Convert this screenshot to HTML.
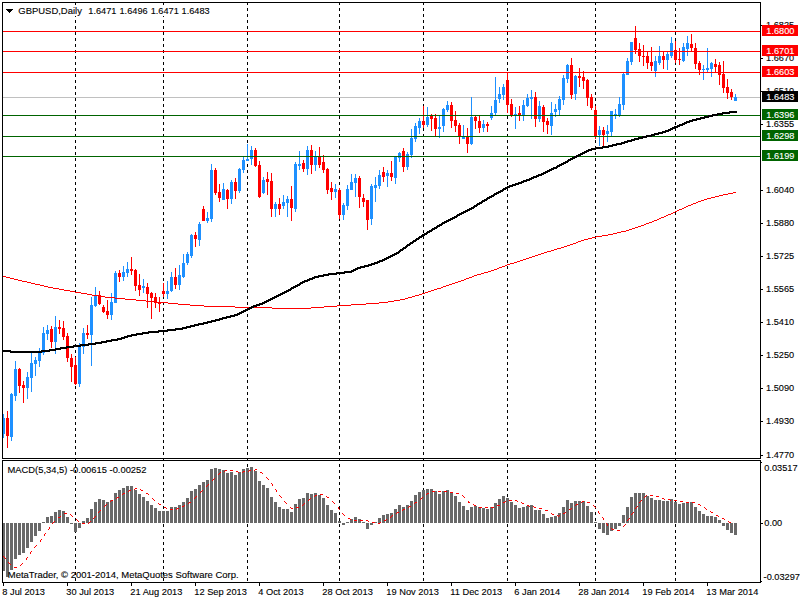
<!DOCTYPE html>
<html><head><meta charset="utf-8"><title>GBPUSD,Daily</title>
<style>
html,body{margin:0;padding:0;background:#fff;}
body{width:800px;height:600px;overflow:hidden;}
svg{display:block}
text{font-family:"Liberation Sans",sans-serif;font-size:9.5px;stroke-width:0.12px;paint-order:stroke;}
g.k text{stroke:#000;} g.w text{stroke:#fff;}
</style></head><body>
<svg width="800" height="600" viewBox="0 0 800 600">
<rect width="800" height="600" fill="#fff"/>
<g shape-rendering="crispEdges">
<path d="M75.5 3V5M75.5 8V11M75.5 14V17M75.5 20V23M75.5 26V29M75.5 32V35M75.5 38V41M75.5 44V47M75.5 50V53M75.5 56V59M75.5 62V65M75.5 68V71M75.5 74V77M75.5 80V83M75.5 86V89M75.5 92V95M75.5 98V101M75.5 104V107M75.5 110V113M75.5 116V119M75.5 122V125M75.5 128V131M75.5 134V137M75.5 140V143M75.5 146V149M75.5 152V155M75.5 158V161M75.5 164V167M75.5 170V173M75.5 176V179M75.5 182V185M75.5 188V191M75.5 194V197M75.5 200V203M75.5 206V209M75.5 212V215M75.5 218V221M75.5 224V227M75.5 230V233M75.5 236V239M75.5 242V245M75.5 248V251M75.5 254V257M75.5 260V263M75.5 266V269M75.5 272V275M75.5 278V281M75.5 284V287M75.5 290V293M75.5 296V299M75.5 302V305M75.5 308V311M75.5 314V317M75.5 320V323M75.5 326V329M75.5 332V335M75.5 338V341M75.5 344V347M75.5 350V353M75.5 356V359M75.5 362V365M75.5 368V371M75.5 374V377M75.5 380V383M75.5 386V389M75.5 392V395M75.5 398V401M75.5 404V407M75.5 410V413M75.5 416V419M75.5 422V425M75.5 428V431M75.5 434V437M75.5 440V443M75.5 446V449M75.5 452V455M75.5 464V467M75.5 470V473M75.5 476V479M75.5 482V485M75.5 488V491M75.5 494V497M75.5 500V503M75.5 506V509M75.5 512V515M75.5 518V521M75.5 524V527M75.5 530V533M75.5 536V539M75.5 542V545M75.5 548V551M75.5 554V557M75.5 560V563M75.5 566V569M75.5 572V575M75.5 578V581M75.5 459V460M163.5 3V5M163.5 8V11M163.5 14V17M163.5 20V23M163.5 26V29M163.5 32V35M163.5 38V41M163.5 44V47M163.5 50V53M163.5 56V59M163.5 62V65M163.5 68V71M163.5 74V77M163.5 80V83M163.5 86V89M163.5 92V95M163.5 98V101M163.5 104V107M163.5 110V113M163.5 116V119M163.5 122V125M163.5 128V131M163.5 134V137M163.5 140V143M163.5 146V149M163.5 152V155M163.5 158V161M163.5 164V167M163.5 170V173M163.5 176V179M163.5 182V185M163.5 188V191M163.5 194V197M163.5 200V203M163.5 206V209M163.5 212V215M163.5 218V221M163.5 224V227M163.5 230V233M163.5 236V239M163.5 242V245M163.5 248V251M163.5 254V257M163.5 260V263M163.5 266V269M163.5 272V275M163.5 278V281M163.5 284V287M163.5 290V293M163.5 296V299M163.5 302V305M163.5 308V311M163.5 314V317M163.5 320V323M163.5 326V329M163.5 332V335M163.5 338V341M163.5 344V347M163.5 350V353M163.5 356V359M163.5 362V365M163.5 368V371M163.5 374V377M163.5 380V383M163.5 386V389M163.5 392V395M163.5 398V401M163.5 404V407M163.5 410V413M163.5 416V419M163.5 422V425M163.5 428V431M163.5 434V437M163.5 440V443M163.5 446V449M163.5 452V455M163.5 464V467M163.5 470V473M163.5 476V479M163.5 482V485M163.5 488V491M163.5 494V497M163.5 500V503M163.5 506V509M163.5 512V515M163.5 518V521M163.5 524V527M163.5 530V533M163.5 536V539M163.5 542V545M163.5 548V551M163.5 554V557M163.5 560V563M163.5 566V569M163.5 572V575M163.5 578V581M163.5 459V460M247.5 3V5M247.5 8V11M247.5 14V17M247.5 20V23M247.5 26V29M247.5 32V35M247.5 38V41M247.5 44V47M247.5 50V53M247.5 56V59M247.5 62V65M247.5 68V71M247.5 74V77M247.5 80V83M247.5 86V89M247.5 92V95M247.5 98V101M247.5 104V107M247.5 110V113M247.5 116V119M247.5 122V125M247.5 128V131M247.5 134V137M247.5 140V143M247.5 146V149M247.5 152V155M247.5 158V161M247.5 164V167M247.5 170V173M247.5 176V179M247.5 182V185M247.5 188V191M247.5 194V197M247.5 200V203M247.5 206V209M247.5 212V215M247.5 218V221M247.5 224V227M247.5 230V233M247.5 236V239M247.5 242V245M247.5 248V251M247.5 254V257M247.5 260V263M247.5 266V269M247.5 272V275M247.5 278V281M247.5 284V287M247.5 290V293M247.5 296V299M247.5 302V305M247.5 308V311M247.5 314V317M247.5 320V323M247.5 326V329M247.5 332V335M247.5 338V341M247.5 344V347M247.5 350V353M247.5 356V359M247.5 362V365M247.5 368V371M247.5 374V377M247.5 380V383M247.5 386V389M247.5 392V395M247.5 398V401M247.5 404V407M247.5 410V413M247.5 416V419M247.5 422V425M247.5 428V431M247.5 434V437M247.5 440V443M247.5 446V449M247.5 452V455M247.5 464V467M247.5 470V473M247.5 476V479M247.5 482V485M247.5 488V491M247.5 494V497M247.5 500V503M247.5 506V509M247.5 512V515M247.5 518V521M247.5 524V527M247.5 530V533M247.5 536V539M247.5 542V545M247.5 548V551M247.5 554V557M247.5 560V563M247.5 566V569M247.5 572V575M247.5 578V581M247.5 459V460M339.5 3V5M339.5 8V11M339.5 14V17M339.5 20V23M339.5 26V29M339.5 32V35M339.5 38V41M339.5 44V47M339.5 50V53M339.5 56V59M339.5 62V65M339.5 68V71M339.5 74V77M339.5 80V83M339.5 86V89M339.5 92V95M339.5 98V101M339.5 104V107M339.5 110V113M339.5 116V119M339.5 122V125M339.5 128V131M339.5 134V137M339.5 140V143M339.5 146V149M339.5 152V155M339.5 158V161M339.5 164V167M339.5 170V173M339.5 176V179M339.5 182V185M339.5 188V191M339.5 194V197M339.5 200V203M339.5 206V209M339.5 212V215M339.5 218V221M339.5 224V227M339.5 230V233M339.5 236V239M339.5 242V245M339.5 248V251M339.5 254V257M339.5 260V263M339.5 266V269M339.5 272V275M339.5 278V281M339.5 284V287M339.5 290V293M339.5 296V299M339.5 302V305M339.5 308V311M339.5 314V317M339.5 320V323M339.5 326V329M339.5 332V335M339.5 338V341M339.5 344V347M339.5 350V353M339.5 356V359M339.5 362V365M339.5 368V371M339.5 374V377M339.5 380V383M339.5 386V389M339.5 392V395M339.5 398V401M339.5 404V407M339.5 410V413M339.5 416V419M339.5 422V425M339.5 428V431M339.5 434V437M339.5 440V443M339.5 446V449M339.5 452V455M339.5 464V467M339.5 470V473M339.5 476V479M339.5 482V485M339.5 488V491M339.5 494V497M339.5 500V503M339.5 506V509M339.5 512V515M339.5 518V521M339.5 524V527M339.5 530V533M339.5 536V539M339.5 542V545M339.5 548V551M339.5 554V557M339.5 560V563M339.5 566V569M339.5 572V575M339.5 578V581M339.5 459V460M423.5 3V5M423.5 8V11M423.5 14V17M423.5 20V23M423.5 26V29M423.5 32V35M423.5 38V41M423.5 44V47M423.5 50V53M423.5 56V59M423.5 62V65M423.5 68V71M423.5 74V77M423.5 80V83M423.5 86V89M423.5 92V95M423.5 98V101M423.5 104V107M423.5 110V113M423.5 116V119M423.5 122V125M423.5 128V131M423.5 134V137M423.5 140V143M423.5 146V149M423.5 152V155M423.5 158V161M423.5 164V167M423.5 170V173M423.5 176V179M423.5 182V185M423.5 188V191M423.5 194V197M423.5 200V203M423.5 206V209M423.5 212V215M423.5 218V221M423.5 224V227M423.5 230V233M423.5 236V239M423.5 242V245M423.5 248V251M423.5 254V257M423.5 260V263M423.5 266V269M423.5 272V275M423.5 278V281M423.5 284V287M423.5 290V293M423.5 296V299M423.5 302V305M423.5 308V311M423.5 314V317M423.5 320V323M423.5 326V329M423.5 332V335M423.5 338V341M423.5 344V347M423.5 350V353M423.5 356V359M423.5 362V365M423.5 368V371M423.5 374V377M423.5 380V383M423.5 386V389M423.5 392V395M423.5 398V401M423.5 404V407M423.5 410V413M423.5 416V419M423.5 422V425M423.5 428V431M423.5 434V437M423.5 440V443M423.5 446V449M423.5 452V455M423.5 464V467M423.5 470V473M423.5 476V479M423.5 482V485M423.5 488V491M423.5 494V497M423.5 500V503M423.5 506V509M423.5 512V515M423.5 518V521M423.5 524V527M423.5 530V533M423.5 536V539M423.5 542V545M423.5 548V551M423.5 554V557M423.5 560V563M423.5 566V569M423.5 572V575M423.5 578V581M423.5 459V460M507.5 3V5M507.5 8V11M507.5 14V17M507.5 20V23M507.5 26V29M507.5 32V35M507.5 38V41M507.5 44V47M507.5 50V53M507.5 56V59M507.5 62V65M507.5 68V71M507.5 74V77M507.5 80V83M507.5 86V89M507.5 92V95M507.5 98V101M507.5 104V107M507.5 110V113M507.5 116V119M507.5 122V125M507.5 128V131M507.5 134V137M507.5 140V143M507.5 146V149M507.5 152V155M507.5 158V161M507.5 164V167M507.5 170V173M507.5 176V179M507.5 182V185M507.5 188V191M507.5 194V197M507.5 200V203M507.5 206V209M507.5 212V215M507.5 218V221M507.5 224V227M507.5 230V233M507.5 236V239M507.5 242V245M507.5 248V251M507.5 254V257M507.5 260V263M507.5 266V269M507.5 272V275M507.5 278V281M507.5 284V287M507.5 290V293M507.5 296V299M507.5 302V305M507.5 308V311M507.5 314V317M507.5 320V323M507.5 326V329M507.5 332V335M507.5 338V341M507.5 344V347M507.5 350V353M507.5 356V359M507.5 362V365M507.5 368V371M507.5 374V377M507.5 380V383M507.5 386V389M507.5 392V395M507.5 398V401M507.5 404V407M507.5 410V413M507.5 416V419M507.5 422V425M507.5 428V431M507.5 434V437M507.5 440V443M507.5 446V449M507.5 452V455M507.5 464V467M507.5 470V473M507.5 476V479M507.5 482V485M507.5 488V491M507.5 494V497M507.5 500V503M507.5 506V509M507.5 512V515M507.5 518V521M507.5 524V527M507.5 530V533M507.5 536V539M507.5 542V545M507.5 548V551M507.5 554V557M507.5 560V563M507.5 566V569M507.5 572V575M507.5 578V581M507.5 459V460M595.5 3V5M595.5 8V11M595.5 14V17M595.5 20V23M595.5 26V29M595.5 32V35M595.5 38V41M595.5 44V47M595.5 50V53M595.5 56V59M595.5 62V65M595.5 68V71M595.5 74V77M595.5 80V83M595.5 86V89M595.5 92V95M595.5 98V101M595.5 104V107M595.5 110V113M595.5 116V119M595.5 122V125M595.5 128V131M595.5 134V137M595.5 140V143M595.5 146V149M595.5 152V155M595.5 158V161M595.5 164V167M595.5 170V173M595.5 176V179M595.5 182V185M595.5 188V191M595.5 194V197M595.5 200V203M595.5 206V209M595.5 212V215M595.5 218V221M595.5 224V227M595.5 230V233M595.5 236V239M595.5 242V245M595.5 248V251M595.5 254V257M595.5 260V263M595.5 266V269M595.5 272V275M595.5 278V281M595.5 284V287M595.5 290V293M595.5 296V299M595.5 302V305M595.5 308V311M595.5 314V317M595.5 320V323M595.5 326V329M595.5 332V335M595.5 338V341M595.5 344V347M595.5 350V353M595.5 356V359M595.5 362V365M595.5 368V371M595.5 374V377M595.5 380V383M595.5 386V389M595.5 392V395M595.5 398V401M595.5 404V407M595.5 410V413M595.5 416V419M595.5 422V425M595.5 428V431M595.5 434V437M595.5 440V443M595.5 446V449M595.5 452V455M595.5 464V467M595.5 470V473M595.5 476V479M595.5 482V485M595.5 488V491M595.5 494V497M595.5 500V503M595.5 506V509M595.5 512V515M595.5 518V521M595.5 524V527M595.5 530V533M595.5 536V539M595.5 542V545M595.5 548V551M595.5 554V557M595.5 560V563M595.5 566V569M595.5 572V575M595.5 578V581M595.5 459V460M675.5 3V5M675.5 8V11M675.5 14V17M675.5 20V23M675.5 26V29M675.5 32V35M675.5 38V41M675.5 44V47M675.5 50V53M675.5 56V59M675.5 62V65M675.5 68V71M675.5 74V77M675.5 80V83M675.5 86V89M675.5 92V95M675.5 98V101M675.5 104V107M675.5 110V113M675.5 116V119M675.5 122V125M675.5 128V131M675.5 134V137M675.5 140V143M675.5 146V149M675.5 152V155M675.5 158V161M675.5 164V167M675.5 170V173M675.5 176V179M675.5 182V185M675.5 188V191M675.5 194V197M675.5 200V203M675.5 206V209M675.5 212V215M675.5 218V221M675.5 224V227M675.5 230V233M675.5 236V239M675.5 242V245M675.5 248V251M675.5 254V257M675.5 260V263M675.5 266V269M675.5 272V275M675.5 278V281M675.5 284V287M675.5 290V293M675.5 296V299M675.5 302V305M675.5 308V311M675.5 314V317M675.5 320V323M675.5 326V329M675.5 332V335M675.5 338V341M675.5 344V347M675.5 350V353M675.5 356V359M675.5 362V365M675.5 368V371M675.5 374V377M675.5 380V383M675.5 386V389M675.5 392V395M675.5 398V401M675.5 404V407M675.5 410V413M675.5 416V419M675.5 422V425M675.5 428V431M675.5 434V437M675.5 440V443M675.5 446V449M675.5 452V455M675.5 464V467M675.5 470V473M675.5 476V479M675.5 482V485M675.5 488V491M675.5 494V497M675.5 500V503M675.5 506V509M675.5 512V515M675.5 518V521M675.5 524V527M675.5 530V533M675.5 536V539M675.5 542V545M675.5 548V551M675.5 554V557M675.5 560V563M675.5 566V569M675.5 572V575M675.5 578V581M675.5 459V460" stroke="#000" stroke-width="1" fill="none"/>
<rect x="18" y="5" width="192" height="11" fill="#fff"/>
<rect x="3" y="97" width="757" height="1" fill="#c0c0c0"/>
<rect x="3" y="414" width="1" height="24" fill="#1e90ff"/>
<rect x="2" y="418" width="3" height="16" fill="#1e90ff"/>
<rect x="7" y="411" width="1" height="37" fill="#ff0000"/>
<rect x="6" y="418" width="3" height="18" fill="#ff0000"/>
<rect x="11" y="393" width="1" height="48" fill="#1e90ff"/>
<rect x="10" y="394" width="3" height="43" fill="#1e90ff"/>
<rect x="15" y="361" width="1" height="40" fill="#1e90ff"/>
<rect x="14" y="369" width="3" height="27" fill="#1e90ff"/>
<rect x="19" y="368" width="1" height="25" fill="#ff0000"/>
<rect x="18" y="369" width="3" height="17" fill="#ff0000"/>
<rect x="23" y="381" width="1" height="22" fill="#ff0000"/>
<rect x="22" y="385" width="3" height="3" fill="#ff0000"/>
<rect x="27" y="372" width="1" height="27" fill="#1e90ff"/>
<rect x="26" y="377" width="3" height="11" fill="#1e90ff"/>
<rect x="31" y="353" width="1" height="39" fill="#1e90ff"/>
<rect x="30" y="363" width="3" height="15" fill="#1e90ff"/>
<rect x="35" y="357" width="1" height="19" fill="#1e90ff"/>
<rect x="34" y="360" width="3" height="4" fill="#1e90ff"/>
<rect x="39" y="348" width="1" height="19" fill="#1e90ff"/>
<rect x="38" y="353" width="3" height="8" fill="#1e90ff"/>
<rect x="43" y="327" width="1" height="28" fill="#1e90ff"/>
<rect x="42" y="333" width="3" height="20" fill="#1e90ff"/>
<rect x="47" y="325" width="1" height="15" fill="#1e90ff"/>
<rect x="46" y="330" width="3" height="4" fill="#1e90ff"/>
<rect x="51" y="326" width="1" height="22" fill="#ff0000"/>
<rect x="50" y="329" width="3" height="13" fill="#ff0000"/>
<rect x="55" y="316" width="1" height="38" fill="#1e90ff"/>
<rect x="54" y="327" width="3" height="15" fill="#1e90ff"/>
<rect x="59" y="320" width="1" height="14" fill="#ff0000"/>
<rect x="58" y="327" width="3" height="2" fill="#ff0000"/>
<rect x="63" y="321" width="1" height="19" fill="#ff0000"/>
<rect x="62" y="328" width="3" height="9" fill="#ff0000"/>
<rect x="67" y="333" width="1" height="29" fill="#ff0000"/>
<rect x="66" y="336" width="3" height="22" fill="#ff0000"/>
<rect x="71" y="354" width="1" height="28" fill="#ff0000"/>
<rect x="70" y="358" width="3" height="9" fill="#ff0000"/>
<rect x="75" y="357" width="1" height="28" fill="#ff0000"/>
<rect x="74" y="365" width="3" height="19" fill="#ff0000"/>
<rect x="79" y="343" width="1" height="44" fill="#1e90ff"/>
<rect x="78" y="347" width="3" height="37" fill="#1e90ff"/>
<rect x="83" y="328" width="1" height="26" fill="#1e90ff"/>
<rect x="82" y="333" width="3" height="14" fill="#1e90ff"/>
<rect x="87" y="325" width="1" height="14" fill="#ff0000"/>
<rect x="86" y="333" width="3" height="2" fill="#ff0000"/>
<rect x="91" y="297" width="1" height="69" fill="#1e90ff"/>
<rect x="90" y="305" width="3" height="30" fill="#1e90ff"/>
<rect x="95" y="287" width="1" height="20" fill="#1e90ff"/>
<rect x="94" y="296" width="3" height="10" fill="#1e90ff"/>
<rect x="99" y="291" width="1" height="14" fill="#ff0000"/>
<rect x="98" y="295" width="3" height="9" fill="#ff0000"/>
<rect x="103" y="305" width="1" height="8" fill="#ff0000"/>
<rect x="102" y="307" width="3" height="5" fill="#ff0000"/>
<rect x="107" y="300" width="1" height="19" fill="#ff0000"/>
<rect x="106" y="311" width="3" height="4" fill="#ff0000"/>
<rect x="111" y="293" width="1" height="27" fill="#1e90ff"/>
<rect x="110" y="302" width="3" height="13" fill="#1e90ff"/>
<rect x="115" y="271" width="1" height="32" fill="#1e90ff"/>
<rect x="114" y="273" width="3" height="30" fill="#1e90ff"/>
<rect x="119" y="270" width="1" height="12" fill="#ff0000"/>
<rect x="118" y="273" width="3" height="4" fill="#ff0000"/>
<rect x="123" y="266" width="1" height="15" fill="#1e90ff"/>
<rect x="122" y="272" width="3" height="5" fill="#1e90ff"/>
<rect x="127" y="262" width="1" height="15" fill="#1e90ff"/>
<rect x="126" y="269" width="3" height="4" fill="#1e90ff"/>
<rect x="131" y="257" width="1" height="18" fill="#ff0000"/>
<rect x="130" y="269" width="3" height="2" fill="#ff0000"/>
<rect x="135" y="269" width="1" height="22" fill="#ff0000"/>
<rect x="134" y="270" width="3" height="16" fill="#ff0000"/>
<rect x="139" y="274" width="1" height="22" fill="#ff0000"/>
<rect x="138" y="285" width="3" height="5" fill="#ff0000"/>
<rect x="143" y="279" width="1" height="14" fill="#1e90ff"/>
<rect x="142" y="286" width="3" height="2" fill="#1e90ff"/>
<rect x="147" y="283" width="1" height="25" fill="#ff0000"/>
<rect x="146" y="287" width="3" height="7" fill="#ff0000"/>
<rect x="151" y="292" width="1" height="27" fill="#ff0000"/>
<rect x="150" y="293" width="3" height="5" fill="#ff0000"/>
<rect x="155" y="293" width="1" height="15" fill="#ff0000"/>
<rect x="154" y="297" width="3" height="6" fill="#ff0000"/>
<rect x="159" y="297" width="1" height="15" fill="#ff0000"/>
<rect x="158" y="302" width="3" height="2" fill="#ff0000"/>
<rect x="163" y="283" width="1" height="14" fill="#ff0000"/>
<rect x="162" y="291" width="3" height="3" fill="#ff0000"/>
<rect x="167" y="281" width="1" height="18" fill="#1e90ff"/>
<rect x="166" y="291" width="3" height="3" fill="#1e90ff"/>
<rect x="171" y="272" width="1" height="20" fill="#1e90ff"/>
<rect x="170" y="277" width="3" height="14" fill="#1e90ff"/>
<rect x="175" y="268" width="1" height="21" fill="#ff0000"/>
<rect x="174" y="277" width="3" height="8" fill="#ff0000"/>
<rect x="179" y="265" width="1" height="25" fill="#1e90ff"/>
<rect x="178" y="275" width="3" height="10" fill="#1e90ff"/>
<rect x="183" y="254" width="1" height="24" fill="#1e90ff"/>
<rect x="182" y="263" width="3" height="14" fill="#1e90ff"/>
<rect x="187" y="252" width="1" height="13" fill="#1e90ff"/>
<rect x="186" y="254" width="3" height="9" fill="#1e90ff"/>
<rect x="191" y="234" width="1" height="24" fill="#1e90ff"/>
<rect x="190" y="235" width="3" height="21" fill="#1e90ff"/>
<rect x="195" y="232" width="1" height="15" fill="#ff0000"/>
<rect x="194" y="235" width="3" height="4" fill="#ff0000"/>
<rect x="199" y="222" width="1" height="24" fill="#1e90ff"/>
<rect x="198" y="224" width="3" height="16" fill="#1e90ff"/>
<rect x="203" y="206" width="1" height="15" fill="#ff0000"/>
<rect x="202" y="209" width="3" height="12" fill="#ff0000"/>
<rect x="207" y="212" width="1" height="11" fill="#1e90ff"/>
<rect x="206" y="218" width="3" height="3" fill="#1e90ff"/>
<rect x="211" y="164" width="1" height="58" fill="#1e90ff"/>
<rect x="210" y="170" width="3" height="49" fill="#1e90ff"/>
<rect x="215" y="168" width="1" height="27" fill="#ff0000"/>
<rect x="214" y="170" width="3" height="23" fill="#ff0000"/>
<rect x="219" y="184" width="1" height="18" fill="#ff0000"/>
<rect x="218" y="192" width="3" height="6" fill="#ff0000"/>
<rect x="223" y="183" width="1" height="17" fill="#1e90ff"/>
<rect x="222" y="189" width="3" height="11" fill="#1e90ff"/>
<rect x="227" y="189" width="1" height="20" fill="#ff0000"/>
<rect x="226" y="190" width="3" height="9" fill="#ff0000"/>
<rect x="231" y="180" width="1" height="24" fill="#1e90ff"/>
<rect x="230" y="182" width="3" height="17" fill="#1e90ff"/>
<rect x="235" y="178" width="1" height="21" fill="#ff0000"/>
<rect x="234" y="182" width="3" height="9" fill="#ff0000"/>
<rect x="239" y="168" width="1" height="25" fill="#1e90ff"/>
<rect x="238" y="169" width="3" height="22" fill="#1e90ff"/>
<rect x="243" y="157" width="1" height="16" fill="#1e90ff"/>
<rect x="242" y="160" width="3" height="10" fill="#1e90ff"/>
<rect x="247" y="144" width="1" height="17" fill="#1e90ff"/>
<rect x="246" y="159" width="3" height="2" fill="#1e90ff"/>
<rect x="251" y="146" width="1" height="19" fill="#1e90ff"/>
<rect x="250" y="150" width="3" height="9" fill="#1e90ff"/>
<rect x="255" y="148" width="1" height="19" fill="#ff0000"/>
<rect x="254" y="150" width="3" height="16" fill="#ff0000"/>
<rect x="259" y="161" width="1" height="37" fill="#ff0000"/>
<rect x="258" y="165" width="3" height="32" fill="#ff0000"/>
<rect x="263" y="177" width="1" height="17" fill="#1e90ff"/>
<rect x="262" y="180" width="3" height="13" fill="#1e90ff"/>
<rect x="267" y="172" width="1" height="23" fill="#ff0000"/>
<rect x="266" y="179" width="3" height="3" fill="#ff0000"/>
<rect x="271" y="173" width="1" height="44" fill="#ff0000"/>
<rect x="270" y="181" width="3" height="28" fill="#ff0000"/>
<rect x="275" y="202" width="1" height="15" fill="#1e90ff"/>
<rect x="274" y="204" width="3" height="5" fill="#1e90ff"/>
<rect x="279" y="198" width="1" height="17" fill="#ff0000"/>
<rect x="278" y="204" width="3" height="5" fill="#ff0000"/>
<rect x="283" y="195" width="1" height="14" fill="#1e90ff"/>
<rect x="282" y="202" width="3" height="4" fill="#1e90ff"/>
<rect x="287" y="196" width="1" height="21" fill="#1e90ff"/>
<rect x="286" y="199" width="3" height="4" fill="#1e90ff"/>
<rect x="291" y="186" width="1" height="35" fill="#ff0000"/>
<rect x="290" y="199" width="3" height="9" fill="#ff0000"/>
<rect x="295" y="162" width="1" height="50" fill="#1e90ff"/>
<rect x="294" y="164" width="3" height="45" fill="#1e90ff"/>
<rect x="299" y="151" width="1" height="19" fill="#1e90ff"/>
<rect x="298" y="164" width="3" height="2" fill="#1e90ff"/>
<rect x="303" y="160" width="1" height="12" fill="#ff0000"/>
<rect x="302" y="163" width="3" height="6" fill="#ff0000"/>
<rect x="307" y="146" width="1" height="29" fill="#1e90ff"/>
<rect x="306" y="150" width="3" height="19" fill="#1e90ff"/>
<rect x="311" y="145" width="1" height="29" fill="#ff0000"/>
<rect x="310" y="150" width="3" height="15" fill="#ff0000"/>
<rect x="315" y="151" width="1" height="20" fill="#1e90ff"/>
<rect x="314" y="156" width="3" height="9" fill="#1e90ff"/>
<rect x="319" y="147" width="1" height="21" fill="#ff0000"/>
<rect x="318" y="156" width="3" height="9" fill="#ff0000"/>
<rect x="323" y="155" width="1" height="18" fill="#ff0000"/>
<rect x="322" y="162" width="3" height="8" fill="#ff0000"/>
<rect x="327" y="168" width="1" height="26" fill="#ff0000"/>
<rect x="326" y="169" width="3" height="21" fill="#ff0000"/>
<rect x="331" y="182" width="1" height="18" fill="#ff0000"/>
<rect x="330" y="188" width="3" height="4" fill="#ff0000"/>
<rect x="335" y="184" width="1" height="14" fill="#1e90ff"/>
<rect x="334" y="189" width="3" height="3" fill="#1e90ff"/>
<rect x="339" y="188" width="1" height="31" fill="#ff0000"/>
<rect x="338" y="190" width="3" height="25" fill="#ff0000"/>
<rect x="343" y="203" width="1" height="17" fill="#1e90ff"/>
<rect x="342" y="205" width="3" height="10" fill="#1e90ff"/>
<rect x="347" y="185" width="1" height="25" fill="#1e90ff"/>
<rect x="346" y="189" width="3" height="17" fill="#1e90ff"/>
<rect x="351" y="174" width="1" height="16" fill="#1e90ff"/>
<rect x="350" y="182" width="3" height="8" fill="#1e90ff"/>
<rect x="355" y="174" width="1" height="23" fill="#1e90ff"/>
<rect x="354" y="178" width="3" height="5" fill="#1e90ff"/>
<rect x="359" y="176" width="1" height="32" fill="#ff0000"/>
<rect x="358" y="178" width="3" height="19" fill="#ff0000"/>
<rect x="363" y="194" width="1" height="13" fill="#ff0000"/>
<rect x="362" y="198" width="3" height="4" fill="#ff0000"/>
<rect x="367" y="200" width="1" height="30" fill="#ff0000"/>
<rect x="366" y="200" width="3" height="20" fill="#ff0000"/>
<rect x="371" y="184" width="1" height="41" fill="#1e90ff"/>
<rect x="370" y="186" width="3" height="33" fill="#1e90ff"/>
<rect x="375" y="177" width="1" height="25" fill="#1e90ff"/>
<rect x="374" y="185" width="3" height="3" fill="#1e90ff"/>
<rect x="379" y="170" width="1" height="19" fill="#1e90ff"/>
<rect x="378" y="175" width="3" height="11" fill="#1e90ff"/>
<rect x="383" y="167" width="1" height="15" fill="#ff0000"/>
<rect x="382" y="172" width="3" height="5" fill="#ff0000"/>
<rect x="387" y="170" width="1" height="17" fill="#1e90ff"/>
<rect x="386" y="173" width="3" height="3" fill="#1e90ff"/>
<rect x="391" y="161" width="1" height="20" fill="#ff0000"/>
<rect x="390" y="173" width="3" height="4" fill="#ff0000"/>
<rect x="395" y="157" width="1" height="27" fill="#1e90ff"/>
<rect x="394" y="157" width="3" height="21" fill="#1e90ff"/>
<rect x="399" y="152" width="1" height="10" fill="#1e90ff"/>
<rect x="398" y="153" width="3" height="5" fill="#1e90ff"/>
<rect x="403" y="148" width="1" height="24" fill="#ff0000"/>
<rect x="402" y="151" width="3" height="16" fill="#ff0000"/>
<rect x="407" y="152" width="1" height="18" fill="#1e90ff"/>
<rect x="406" y="154" width="3" height="13" fill="#1e90ff"/>
<rect x="411" y="129" width="1" height="29" fill="#1e90ff"/>
<rect x="410" y="138" width="3" height="17" fill="#1e90ff"/>
<rect x="415" y="123" width="1" height="19" fill="#1e90ff"/>
<rect x="414" y="126" width="3" height="13" fill="#1e90ff"/>
<rect x="419" y="118" width="1" height="16" fill="#1e90ff"/>
<rect x="418" y="121" width="3" height="7" fill="#1e90ff"/>
<rect x="423" y="106" width="1" height="22" fill="#ff0000"/>
<rect x="422" y="121" width="3" height="4" fill="#ff0000"/>
<rect x="427" y="107" width="1" height="20" fill="#1e90ff"/>
<rect x="426" y="117" width="3" height="8" fill="#1e90ff"/>
<rect x="431" y="114" width="1" height="17" fill="#ff0000"/>
<rect x="430" y="116" width="3" height="3" fill="#ff0000"/>
<rect x="435" y="114" width="1" height="22" fill="#ff0000"/>
<rect x="434" y="118" width="3" height="11" fill="#ff0000"/>
<rect x="439" y="116" width="1" height="22" fill="#1e90ff"/>
<rect x="438" y="127" width="3" height="2" fill="#1e90ff"/>
<rect x="443" y="108" width="1" height="24" fill="#1e90ff"/>
<rect x="442" y="109" width="3" height="17" fill="#1e90ff"/>
<rect x="447" y="101" width="1" height="11" fill="#1e90ff"/>
<rect x="446" y="105" width="3" height="5" fill="#1e90ff"/>
<rect x="451" y="102" width="1" height="26" fill="#ff0000"/>
<rect x="450" y="105" width="3" height="16" fill="#ff0000"/>
<rect x="455" y="111" width="1" height="21" fill="#ff0000"/>
<rect x="454" y="120" width="3" height="6" fill="#ff0000"/>
<rect x="459" y="123" width="1" height="21" fill="#ff0000"/>
<rect x="458" y="125" width="3" height="11" fill="#ff0000"/>
<rect x="463" y="125" width="1" height="14" fill="#1e90ff"/>
<rect x="462" y="137" width="3" height="2" fill="#1e90ff"/>
<rect x="467" y="128" width="1" height="25" fill="#ff0000"/>
<rect x="466" y="137" width="3" height="7" fill="#ff0000"/>
<rect x="471" y="97" width="1" height="48" fill="#1e90ff"/>
<rect x="470" y="117" width="3" height="27" fill="#1e90ff"/>
<rect x="475" y="116" width="1" height="13" fill="#ff0000"/>
<rect x="474" y="117" width="3" height="4" fill="#ff0000"/>
<rect x="479" y="116" width="1" height="17" fill="#ff0000"/>
<rect x="478" y="121" width="3" height="7" fill="#ff0000"/>
<rect x="483" y="120" width="1" height="12" fill="#1e90ff"/>
<rect x="482" y="124" width="3" height="4" fill="#1e90ff"/>
<rect x="487" y="122" width="1" height="10" fill="#ff0000"/>
<rect x="486" y="124" width="3" height="2" fill="#ff0000"/>
<rect x="491" y="106" width="1" height="14" fill="#1e90ff"/>
<rect x="490" y="113" width="3" height="5" fill="#1e90ff"/>
<rect x="495" y="77" width="1" height="38" fill="#1e90ff"/>
<rect x="494" y="100" width="3" height="13" fill="#1e90ff"/>
<rect x="499" y="87" width="1" height="16" fill="#1e90ff"/>
<rect x="498" y="94" width="3" height="5" fill="#1e90ff"/>
<rect x="503" y="84" width="1" height="16" fill="#1e90ff"/>
<rect x="502" y="87" width="3" height="8" fill="#1e90ff"/>
<rect x="507" y="73" width="1" height="40" fill="#ff0000"/>
<rect x="506" y="80" width="3" height="25" fill="#ff0000"/>
<rect x="511" y="99" width="1" height="18" fill="#ff0000"/>
<rect x="510" y="104" width="3" height="11" fill="#ff0000"/>
<rect x="515" y="107" width="1" height="22" fill="#1e90ff"/>
<rect x="514" y="114" width="3" height="1" fill="#1e90ff"/>
<rect x="519" y="106" width="1" height="15" fill="#ff0000"/>
<rect x="518" y="113" width="3" height="2" fill="#ff0000"/>
<rect x="523" y="100" width="1" height="21" fill="#1e90ff"/>
<rect x="522" y="105" width="3" height="10" fill="#1e90ff"/>
<rect x="527" y="94" width="1" height="13" fill="#1e90ff"/>
<rect x="526" y="98" width="3" height="8" fill="#1e90ff"/>
<rect x="531" y="90" width="1" height="29" fill="#1e90ff"/>
<rect x="530" y="97" width="3" height="2" fill="#1e90ff"/>
<rect x="535" y="92" width="1" height="35" fill="#ff0000"/>
<rect x="534" y="97" width="3" height="22" fill="#ff0000"/>
<rect x="539" y="101" width="1" height="21" fill="#1e90ff"/>
<rect x="538" y="106" width="3" height="13" fill="#1e90ff"/>
<rect x="543" y="105" width="1" height="27" fill="#ff0000"/>
<rect x="542" y="107" width="3" height="15" fill="#ff0000"/>
<rect x="547" y="118" width="1" height="16" fill="#ff0000"/>
<rect x="546" y="121" width="3" height="4" fill="#ff0000"/>
<rect x="551" y="102" width="1" height="33" fill="#1e90ff"/>
<rect x="550" y="113" width="3" height="13" fill="#1e90ff"/>
<rect x="555" y="104" width="1" height="13" fill="#1e90ff"/>
<rect x="554" y="109" width="3" height="3" fill="#1e90ff"/>
<rect x="559" y="96" width="1" height="19" fill="#1e90ff"/>
<rect x="558" y="99" width="3" height="11" fill="#1e90ff"/>
<rect x="563" y="75" width="1" height="30" fill="#1e90ff"/>
<rect x="562" y="78" width="3" height="22" fill="#1e90ff"/>
<rect x="567" y="64" width="1" height="19" fill="#1e90ff"/>
<rect x="566" y="65" width="3" height="14" fill="#1e90ff"/>
<rect x="571" y="58" width="1" height="41" fill="#ff0000"/>
<rect x="570" y="65" width="3" height="30" fill="#ff0000"/>
<rect x="575" y="75" width="1" height="25" fill="#1e90ff"/>
<rect x="574" y="76" width="3" height="18" fill="#1e90ff"/>
<rect x="579" y="68" width="1" height="19" fill="#ff0000"/>
<rect x="578" y="76" width="3" height="2" fill="#ff0000"/>
<rect x="583" y="71" width="1" height="18" fill="#ff0000"/>
<rect x="582" y="77" width="3" height="4" fill="#ff0000"/>
<rect x="587" y="79" width="1" height="27" fill="#ff0000"/>
<rect x="586" y="80" width="3" height="18" fill="#ff0000"/>
<rect x="591" y="94" width="1" height="16" fill="#ff0000"/>
<rect x="590" y="97" width="3" height="11" fill="#ff0000"/>
<rect x="595" y="106" width="1" height="33" fill="#ff0000"/>
<rect x="594" y="110" width="3" height="26" fill="#ff0000"/>
<rect x="599" y="126" width="1" height="20" fill="#1e90ff"/>
<rect x="598" y="130" width="3" height="5" fill="#1e90ff"/>
<rect x="603" y="127" width="1" height="20" fill="#ff0000"/>
<rect x="602" y="130" width="3" height="5" fill="#ff0000"/>
<rect x="607" y="125" width="1" height="17" fill="#1e90ff"/>
<rect x="606" y="131" width="3" height="3" fill="#1e90ff"/>
<rect x="611" y="111" width="1" height="25" fill="#1e90ff"/>
<rect x="610" y="111" width="3" height="21" fill="#1e90ff"/>
<rect x="615" y="109" width="1" height="10" fill="#1e90ff"/>
<rect x="614" y="114" width="3" height="1" fill="#1e90ff"/>
<rect x="619" y="97" width="1" height="20" fill="#1e90ff"/>
<rect x="618" y="104" width="3" height="11" fill="#1e90ff"/>
<rect x="623" y="73" width="1" height="37" fill="#1e90ff"/>
<rect x="622" y="74" width="3" height="31" fill="#1e90ff"/>
<rect x="627" y="58" width="1" height="17" fill="#1e90ff"/>
<rect x="626" y="61" width="3" height="14" fill="#1e90ff"/>
<rect x="631" y="42" width="1" height="23" fill="#1e90ff"/>
<rect x="630" y="42" width="3" height="20" fill="#1e90ff"/>
<rect x="635" y="26" width="1" height="28" fill="#ff0000"/>
<rect x="634" y="38" width="3" height="12" fill="#ff0000"/>
<rect x="639" y="43" width="1" height="19" fill="#ff0000"/>
<rect x="638" y="49" width="3" height="7" fill="#ff0000"/>
<rect x="643" y="45" width="1" height="21" fill="#ff0000"/>
<rect x="642" y="56" width="3" height="1" fill="#ff0000"/>
<rect x="647" y="52" width="1" height="17" fill="#ff0000"/>
<rect x="646" y="56" width="3" height="7" fill="#ff0000"/>
<rect x="651" y="47" width="1" height="24" fill="#ff0000"/>
<rect x="650" y="62" width="3" height="4" fill="#ff0000"/>
<rect x="655" y="56" width="1" height="21" fill="#1e90ff"/>
<rect x="654" y="61" width="3" height="10" fill="#1e90ff"/>
<rect x="659" y="46" width="1" height="19" fill="#1e90ff"/>
<rect x="658" y="56" width="3" height="7" fill="#1e90ff"/>
<rect x="663" y="52" width="1" height="17" fill="#ff0000"/>
<rect x="662" y="56" width="3" height="4" fill="#ff0000"/>
<rect x="667" y="52" width="1" height="18" fill="#1e90ff"/>
<rect x="666" y="54" width="3" height="6" fill="#1e90ff"/>
<rect x="671" y="37" width="1" height="21" fill="#1e90ff"/>
<rect x="670" y="43" width="3" height="13" fill="#1e90ff"/>
<rect x="675" y="41" width="1" height="22" fill="#ff0000"/>
<rect x="674" y="50" width="3" height="10" fill="#ff0000"/>
<rect x="679" y="48" width="1" height="17" fill="#ff0000"/>
<rect x="678" y="59" width="3" height="1" fill="#ff0000"/>
<rect x="683" y="43" width="1" height="19" fill="#1e90ff"/>
<rect x="682" y="47" width="3" height="14" fill="#1e90ff"/>
<rect x="687" y="36" width="1" height="20" fill="#1e90ff"/>
<rect x="686" y="43" width="3" height="6" fill="#1e90ff"/>
<rect x="691" y="34" width="1" height="17" fill="#ff0000"/>
<rect x="690" y="44" width="3" height="4" fill="#ff0000"/>
<rect x="695" y="43" width="1" height="26" fill="#ff0000"/>
<rect x="694" y="48" width="3" height="16" fill="#ff0000"/>
<rect x="699" y="61" width="1" height="14" fill="#ff0000"/>
<rect x="698" y="63" width="3" height="7" fill="#ff0000"/>
<rect x="703" y="65" width="1" height="15" fill="#1e90ff"/>
<rect x="702" y="69" width="3" height="1" fill="#1e90ff"/>
<rect x="707" y="48" width="1" height="24" fill="#1e90ff"/>
<rect x="706" y="68" width="3" height="2" fill="#1e90ff"/>
<rect x="711" y="62" width="1" height="15" fill="#1e90ff"/>
<rect x="710" y="63" width="3" height="6" fill="#1e90ff"/>
<rect x="715" y="59" width="1" height="13" fill="#ff0000"/>
<rect x="714" y="64" width="3" height="3" fill="#ff0000"/>
<rect x="719" y="62" width="1" height="23" fill="#ff0000"/>
<rect x="718" y="65" width="3" height="10" fill="#ff0000"/>
<rect x="723" y="61" width="1" height="32" fill="#ff0000"/>
<rect x="722" y="74" width="3" height="14" fill="#ff0000"/>
<rect x="727" y="79" width="1" height="20" fill="#ff0000"/>
<rect x="726" y="87" width="3" height="6" fill="#ff0000"/>
<rect x="731" y="89" width="1" height="11" fill="#ff0000"/>
<rect x="730" y="92" width="3" height="5" fill="#ff0000"/>
<rect x="735" y="94" width="1" height="7" fill="#1e90ff"/>
<rect x="734" y="97" width="3" height="4" fill="#1e90ff"/>
<rect x="2" y="523" width="3" height="48" fill="#696969"/>
<rect x="6" y="523" width="3" height="54" fill="#696969"/>
<rect x="10" y="523" width="3" height="47" fill="#696969"/>
<rect x="14" y="523" width="3" height="36" fill="#696969"/>
<rect x="18" y="523" width="3" height="32" fill="#696969"/>
<rect x="22" y="523" width="3" height="30" fill="#696969"/>
<rect x="26" y="523" width="3" height="25" fill="#696969"/>
<rect x="30" y="523" width="3" height="19" fill="#696969"/>
<rect x="34" y="523" width="3" height="13" fill="#696969"/>
<rect x="38" y="523" width="3" height="8" fill="#696969"/>
<rect x="42" y="522" width="3" height="1" fill="#696969"/>
<rect x="46" y="517" width="3" height="6" fill="#696969"/>
<rect x="50" y="516" width="3" height="7" fill="#696969"/>
<rect x="54" y="512" width="3" height="11" fill="#696969"/>
<rect x="58" y="510" width="3" height="13" fill="#696969"/>
<rect x="62" y="511" width="3" height="12" fill="#696969"/>
<rect x="66" y="517" width="3" height="6" fill="#696969"/>
<rect x="70" y="523" width="3" height="1" fill="#696969"/>
<rect x="74" y="523" width="3" height="9" fill="#696969"/>
<rect x="78" y="523" width="3" height="5" fill="#696969"/>
<rect x="82" y="521" width="3" height="2" fill="#696969"/>
<rect x="86" y="518" width="3" height="5" fill="#696969"/>
<rect x="90" y="509" width="3" height="14" fill="#696969"/>
<rect x="94" y="502" width="3" height="21" fill="#696969"/>
<rect x="98" y="499" width="3" height="24" fill="#696969"/>
<rect x="102" y="500" width="3" height="23" fill="#696969"/>
<rect x="106" y="502" width="3" height="21" fill="#696969"/>
<rect x="110" y="500" width="3" height="23" fill="#696969"/>
<rect x="114" y="493" width="3" height="30" fill="#696969"/>
<rect x="118" y="490" width="3" height="33" fill="#696969"/>
<rect x="122" y="488" width="3" height="35" fill="#696969"/>
<rect x="126" y="486" width="3" height="37" fill="#696969"/>
<rect x="130" y="486" width="3" height="37" fill="#696969"/>
<rect x="134" y="490" width="3" height="33" fill="#696969"/>
<rect x="138" y="494" width="3" height="29" fill="#696969"/>
<rect x="142" y="497" width="3" height="26" fill="#696969"/>
<rect x="146" y="501" width="3" height="22" fill="#696969"/>
<rect x="150" y="505" width="3" height="18" fill="#696969"/>
<rect x="154" y="508" width="3" height="15" fill="#696969"/>
<rect x="158" y="511" width="3" height="12" fill="#696969"/>
<rect x="162" y="511" width="3" height="12" fill="#696969"/>
<rect x="166" y="511" width="3" height="12" fill="#696969"/>
<rect x="170" y="507" width="3" height="16" fill="#696969"/>
<rect x="174" y="507" width="3" height="16" fill="#696969"/>
<rect x="178" y="505" width="3" height="18" fill="#696969"/>
<rect x="182" y="502" width="3" height="21" fill="#696969"/>
<rect x="186" y="498" width="3" height="25" fill="#696969"/>
<rect x="190" y="491" width="3" height="32" fill="#696969"/>
<rect x="194" y="489" width="3" height="34" fill="#696969"/>
<rect x="198" y="485" width="3" height="38" fill="#696969"/>
<rect x="202" y="482" width="3" height="41" fill="#696969"/>
<rect x="206" y="480" width="3" height="43" fill="#696969"/>
<rect x="210" y="469" width="3" height="54" fill="#696969"/>
<rect x="214" y="468" width="3" height="55" fill="#696969"/>
<rect x="218" y="469" width="3" height="54" fill="#696969"/>
<rect x="222" y="470" width="3" height="53" fill="#696969"/>
<rect x="226" y="473" width="3" height="50" fill="#696969"/>
<rect x="230" y="472" width="3" height="51" fill="#696969"/>
<rect x="234" y="475" width="3" height="48" fill="#696969"/>
<rect x="238" y="472" width="3" height="51" fill="#696969"/>
<rect x="242" y="469" width="3" height="54" fill="#696969"/>
<rect x="246" y="468" width="3" height="55" fill="#696969"/>
<rect x="250" y="467" width="3" height="56" fill="#696969"/>
<rect x="254" y="471" width="3" height="52" fill="#696969"/>
<rect x="258" y="481" width="3" height="42" fill="#696969"/>
<rect x="262" y="485" width="3" height="38" fill="#696969"/>
<rect x="266" y="488" width="3" height="35" fill="#696969"/>
<rect x="270" y="497" width="3" height="26" fill="#696969"/>
<rect x="274" y="502" width="3" height="21" fill="#696969"/>
<rect x="278" y="507" width="3" height="16" fill="#696969"/>
<rect x="282" y="509" width="3" height="14" fill="#696969"/>
<rect x="286" y="509" width="3" height="14" fill="#696969"/>
<rect x="290" y="512" width="3" height="11" fill="#696969"/>
<rect x="294" y="504" width="3" height="19" fill="#696969"/>
<rect x="298" y="499" width="3" height="24" fill="#696969"/>
<rect x="302" y="498" width="3" height="25" fill="#696969"/>
<rect x="306" y="493" width="3" height="30" fill="#696969"/>
<rect x="310" y="494" width="3" height="29" fill="#696969"/>
<rect x="314" y="493" width="3" height="30" fill="#696969"/>
<rect x="318" y="495" width="3" height="28" fill="#696969"/>
<rect x="322" y="498" width="3" height="25" fill="#696969"/>
<rect x="326" y="505" width="3" height="18" fill="#696969"/>
<rect x="330" y="510" width="3" height="13" fill="#696969"/>
<rect x="334" y="513" width="3" height="10" fill="#696969"/>
<rect x="338" y="521" width="3" height="2" fill="#696969"/>
<rect x="342" y="523" width="3" height="2" fill="#696969"/>
<rect x="346" y="522" width="3" height="1" fill="#696969"/>
<rect x="350" y="519" width="3" height="4" fill="#696969"/>
<rect x="354" y="517" width="3" height="6" fill="#696969"/>
<rect x="358" y="519" width="3" height="4" fill="#696969"/>
<rect x="362" y="522" width="3" height="1" fill="#696969"/>
<rect x="366" y="523" width="3" height="6" fill="#696969"/>
<rect x="370" y="523" width="3" height="2" fill="#696969"/>
<rect x="374" y="522" width="3" height="1" fill="#696969"/>
<rect x="378" y="518" width="3" height="5" fill="#696969"/>
<rect x="382" y="515" width="3" height="8" fill="#696969"/>
<rect x="386" y="514" width="3" height="9" fill="#696969"/>
<rect x="390" y="513" width="3" height="10" fill="#696969"/>
<rect x="394" y="509" width="3" height="14" fill="#696969"/>
<rect x="398" y="505" width="3" height="18" fill="#696969"/>
<rect x="402" y="507" width="3" height="16" fill="#696969"/>
<rect x="406" y="505" width="3" height="18" fill="#696969"/>
<rect x="410" y="501" width="3" height="22" fill="#696969"/>
<rect x="414" y="495" width="3" height="28" fill="#696969"/>
<rect x="418" y="492" width="3" height="31" fill="#696969"/>
<rect x="422" y="490" width="3" height="33" fill="#696969"/>
<rect x="426" y="489" width="3" height="34" fill="#696969"/>
<rect x="430" y="489" width="3" height="34" fill="#696969"/>
<rect x="434" y="491" width="3" height="32" fill="#696969"/>
<rect x="438" y="494" width="3" height="29" fill="#696969"/>
<rect x="442" y="491" width="3" height="32" fill="#696969"/>
<rect x="446" y="490" width="3" height="33" fill="#696969"/>
<rect x="450" y="493" width="3" height="30" fill="#696969"/>
<rect x="454" y="496" width="3" height="27" fill="#696969"/>
<rect x="458" y="502" width="3" height="21" fill="#696969"/>
<rect x="462" y="506" width="3" height="17" fill="#696969"/>
<rect x="466" y="510" width="3" height="13" fill="#696969"/>
<rect x="470" y="507" width="3" height="16" fill="#696969"/>
<rect x="474" y="506" width="3" height="17" fill="#696969"/>
<rect x="478" y="507" width="3" height="16" fill="#696969"/>
<rect x="482" y="508" width="3" height="15" fill="#696969"/>
<rect x="486" y="509" width="3" height="14" fill="#696969"/>
<rect x="490" y="507" width="3" height="16" fill="#696969"/>
<rect x="494" y="503" width="3" height="20" fill="#696969"/>
<rect x="498" y="499" width="3" height="24" fill="#696969"/>
<rect x="502" y="496" width="3" height="27" fill="#696969"/>
<rect x="506" y="498" width="3" height="25" fill="#696969"/>
<rect x="510" y="502" width="3" height="21" fill="#696969"/>
<rect x="514" y="505" width="3" height="18" fill="#696969"/>
<rect x="518" y="508" width="3" height="15" fill="#696969"/>
<rect x="522" y="507" width="3" height="16" fill="#696969"/>
<rect x="526" y="506" width="3" height="17" fill="#696969"/>
<rect x="530" y="505" width="3" height="18" fill="#696969"/>
<rect x="534" y="510" width="3" height="13" fill="#696969"/>
<rect x="538" y="510" width="3" height="13" fill="#696969"/>
<rect x="542" y="514" width="3" height="9" fill="#696969"/>
<rect x="546" y="518" width="3" height="5" fill="#696969"/>
<rect x="550" y="517" width="3" height="6" fill="#696969"/>
<rect x="554" y="516" width="3" height="7" fill="#696969"/>
<rect x="558" y="513" width="3" height="10" fill="#696969"/>
<rect x="562" y="507" width="3" height="16" fill="#696969"/>
<rect x="566" y="500" width="3" height="23" fill="#696969"/>
<rect x="570" y="503" width="3" height="20" fill="#696969"/>
<rect x="574" y="501" width="3" height="22" fill="#696969"/>
<rect x="578" y="501" width="3" height="22" fill="#696969"/>
<rect x="582" y="501" width="3" height="22" fill="#696969"/>
<rect x="586" y="506" width="3" height="17" fill="#696969"/>
<rect x="590" y="512" width="3" height="11" fill="#696969"/>
<rect x="594" y="522" width="3" height="1" fill="#696969"/>
<rect x="598" y="523" width="3" height="6" fill="#696969"/>
<rect x="602" y="523" width="3" height="10" fill="#696969"/>
<rect x="606" y="523" width="3" height="12" fill="#696969"/>
<rect x="610" y="523" width="3" height="8" fill="#696969"/>
<rect x="614" y="523" width="3" height="6" fill="#696969"/>
<rect x="618" y="523" width="3" height="3" fill="#696969"/>
<rect x="622" y="515" width="3" height="8" fill="#696969"/>
<rect x="626" y="507" width="3" height="16" fill="#696969"/>
<rect x="630" y="497" width="3" height="26" fill="#696969"/>
<rect x="634" y="493" width="3" height="30" fill="#696969"/>
<rect x="638" y="493" width="3" height="30" fill="#696969"/>
<rect x="642" y="493" width="3" height="30" fill="#696969"/>
<rect x="646" y="496" width="3" height="27" fill="#696969"/>
<rect x="650" y="498" width="3" height="25" fill="#696969"/>
<rect x="654" y="500" width="3" height="23" fill="#696969"/>
<rect x="658" y="500" width="3" height="23" fill="#696969"/>
<rect x="662" y="501" width="3" height="22" fill="#696969"/>
<rect x="666" y="501" width="3" height="22" fill="#696969"/>
<rect x="670" y="499" width="3" height="24" fill="#696969"/>
<rect x="674" y="502" width="3" height="21" fill="#696969"/>
<rect x="678" y="504" width="3" height="19" fill="#696969"/>
<rect x="682" y="503" width="3" height="20" fill="#696969"/>
<rect x="686" y="502" width="3" height="21" fill="#696969"/>
<rect x="690" y="502" width="3" height="21" fill="#696969"/>
<rect x="694" y="507" width="3" height="16" fill="#696969"/>
<rect x="698" y="511" width="3" height="12" fill="#696969"/>
<rect x="702" y="514" width="3" height="9" fill="#696969"/>
<rect x="706" y="516" width="3" height="7" fill="#696969"/>
<rect x="710" y="516" width="3" height="7" fill="#696969"/>
<rect x="714" y="517" width="3" height="6" fill="#696969"/>
<rect x="718" y="520" width="3" height="3" fill="#696969"/>
<rect x="722" y="523" width="3" height="3" fill="#696969"/>
<rect x="726" y="523" width="3" height="7" fill="#696969"/>
<rect x="730" y="523" width="3" height="10" fill="#696969"/>
<rect x="734" y="523" width="3" height="12" fill="#696969"/>
<rect x="3" y="31" width="757" height="1" fill="#ff0000"/>
<rect x="3" y="51" width="757" height="1" fill="#ff0000"/>
<rect x="3" y="72" width="757" height="1" fill="#ff0000"/>
<rect x="3" y="115" width="757" height="1" fill="#006400"/>
<rect x="3" y="136" width="757" height="1" fill="#006400"/>
<rect x="3" y="156" width="757" height="1" fill="#006400"/>
<path d="M3 276h3v1h-3zM6 277h4v1h-4zM10 278h4v1h-4zM14 279h4v1h-4zM18 280h4v1h-4zM22 281h5v1h-5zM27 282h4v1h-4zM31 283h4v1h-4zM35 284h5v1h-5zM40 285h4v1h-4zM44 286h4v1h-4zM48 287h5v1h-5zM53 288h6v1h-6zM59 289h5v1h-5zM64 290h6v1h-6zM70 291h5v1h-5zM75 292h6v1h-6zM81 293h6v1h-6zM87 294h5v1h-5zM92 295h6v1h-6zM98 296h7v1h-7zM105 297h10v1h-10zM115 298h10v1h-10zM125 299h11v1h-11zM136 300h10v1h-10zM146 301h11v1h-11zM157 302h11v1h-11zM168 303h10v1h-10zM178 304h12v1h-12zM190 305h14v1h-14zM204 306h31v1h-31zM235 307h37v1h-37zM272 308h39v1h-39zM311 307h13v1h-13zM324 306h13v1h-13zM337 305h14v1h-14zM351 304h15v1h-15zM366 303h13v1h-13zM379 302h9v1h-9zM388 301h6v1h-6zM394 300h6v1h-6zM400 299h5v1h-5zM405 298h3v1h-3zM408 297h4v1h-4zM412 296h3v1h-3zM415 295h4v1h-4zM419 294h3v1h-3zM422 293h3v1h-3zM425 292h3v1h-3zM428 291h3v1h-3zM431 290h3v1h-3zM434 289h3v1h-3zM437 288h4v1h-4zM441 287h2v1h-2zM443 286h3v1h-3zM446 285h3v1h-3zM449 284h3v1h-3zM452 283h3v1h-3zM455 282h3v1h-3zM458 281h3v1h-3zM461 280h3v1h-3zM464 279h2v1h-2zM466 278h3v1h-3zM469 277h3v1h-3zM472 276h2v1h-2zM474 275h3v1h-3zM477 274h4v1h-4zM481 273h3v1h-3zM484 272h4v1h-4zM488 271h3v1h-3zM491 270h3v1h-3zM494 269h3v1h-3zM497 268h2v1h-2zM499 267h3v1h-3zM502 266h3v1h-3zM505 265h2v1h-2zM507 264h3v1h-3zM510 263h4v1h-4zM514 262h3v1h-3zM517 261h3v1h-3zM520 260h3v1h-3zM523 259h3v1h-3zM526 258h3v1h-3zM529 257h3v1h-3zM532 256h3v1h-3zM535 255h3v1h-3zM538 254h3v1h-3zM541 253h3v1h-3zM544 252h3v1h-3zM547 251h4v1h-4zM551 250h3v1h-3zM554 249h3v1h-3zM557 248h4v1h-4zM561 247h3v1h-3zM564 246h3v1h-3zM567 245h3v1h-3zM570 244h3v1h-3zM573 243h3v1h-3zM576 242h2v1h-2zM578 241h3v1h-3zM581 240h3v1h-3zM584 239h4v1h-4zM588 238h4v1h-4zM592 237h4v1h-4zM596 236h6v1h-6zM602 235h6v1h-6zM608 234h5v1h-5zM613 233h4v1h-4zM617 232h4v1h-4zM621 231h5v1h-5zM626 230h3v1h-3zM629 229h3v1h-3zM632 228h3v1h-3zM635 227h3v1h-3zM638 226h3v1h-3zM641 225h3v1h-3zM644 224h2v1h-2zM646 223h3v1h-3zM649 222h3v1h-3zM652 221h2v1h-2zM654 220h3v1h-3zM657 219h2v1h-2zM659 218h2v1h-2zM661 217h3v1h-3zM664 216h2v1h-2zM666 215h2v1h-2zM668 214h3v1h-3zM671 213h2v1h-2zM673 212h2v1h-2zM675 211h2v1h-2zM677 210h2v1h-2zM679 209h3v1h-3zM682 208h2v1h-2zM684 207h2v1h-2zM686 206h2v1h-2zM688 205h3v1h-3zM691 204h2v1h-2zM693 203h3v1h-3zM696 202h2v1h-2zM698 201h3v1h-3zM701 200h3v1h-3zM704 199h3v1h-3zM707 198h4v1h-4zM711 197h4v1h-4zM715 196h4v1h-4zM719 195h4v1h-4zM723 194h5v1h-5zM728 193h5v1h-5zM733 192h3v1h-3z" fill="#ff0000"/>
<path d="M3 350h8v2h-8zM10 351h32v2h-32zM41 350h9v2h-9zM49 349h7v2h-7zM55 348h6v2h-6zM60 347h7v2h-7zM66 346h8v2h-8zM73 345h8v2h-8zM80 344h9v2h-9zM88 343h8v2h-8zM95 342h7v2h-7zM101 341h6v2h-6zM106 340h6v2h-6zM111 339h7v2h-7zM117 338h5v2h-5zM121 337h4v2h-4zM124 336h4v2h-4zM127 335h5v2h-5zM131 334h6v2h-6zM136 333h7v2h-7zM142 332h7v2h-7zM148 331h11v2h-11zM158 330h10v2h-10zM167 329h9v2h-9zM175 328h8v2h-8zM182 327h5v2h-5zM186 326h5v2h-5zM190 325h5v2h-5zM194 324h5v2h-5zM198 323h6v2h-6zM203 322h5v2h-5zM207 321h5v2h-5zM211 320h5v2h-5zM215 319h5v2h-5zM219 318h4v2h-4zM222 317h5v2h-5zM226 316h5v2h-5zM230 315h5v2h-5zM234 314h4v2h-4zM237 313h3v2h-3zM239 312h3v2h-3zM241 311h3v2h-3zM243 310h3v2h-3zM245 309h3v2h-3zM247 308h3v2h-3zM249 307h3v2h-3zM251 306h3v2h-3zM253 305h4v2h-4zM256 304h4v2h-4zM259 303h4v2h-4zM262 302h3v2h-3zM264 301h3v2h-3zM266 300h3v2h-3zM268 299h3v2h-3zM270 298h3v2h-3zM272 297h3v2h-3zM274 296h3v2h-3zM276 295h3v2h-3zM278 294h3v2h-3zM280 293h3v2h-3zM282 292h3v2h-3zM284 291h3v2h-3zM286 290h3v2h-3zM288 289h3v2h-3zM290 288h2v2h-2zM291 287h3v2h-3zM293 286h3v2h-3zM295 285h3v2h-3zM297 284h3v2h-3zM299 283h2v2h-2zM300 282h3v2h-3zM302 281h3v2h-3zM304 280h4v2h-4zM307 279h3v2h-3zM309 278h4v2h-4zM312 277h3v2h-3zM314 276h5v2h-5zM318 275h6v2h-6zM323 274h6v2h-6zM328 273h9v2h-9zM336 272h9v2h-9zM344 271h8v2h-8zM351 270h3v2h-3zM353 269h3v2h-3zM355 268h3v2h-3zM357 267h4v2h-4zM360 266h5v2h-5zM364 265h5v2h-5zM368 264h4v2h-4zM371 263h4v2h-4zM374 262h4v2h-4zM377 261h3v2h-3zM379 260h4v2h-4zM382 259h3v2h-3zM384 258h3v2h-3zM386 257h3v2h-3zM388 256h3v2h-3zM390 255h3v2h-3zM392 254h3v2h-3zM394 253h3v2h-3zM396 252h3v2h-3zM398 251h2v2h-2zM399 250h2v2h-2zM400 249h3v2h-3zM402 248h2v2h-2zM403 247h3v2h-3zM405 246h2v2h-2zM406 245h2v2h-2zM407 244h3v2h-3zM409 243h2v2h-2zM410 242h3v2h-3zM412 241h2v2h-2zM413 240h3v2h-3zM415 239h2v2h-2zM416 238h3v2h-3zM418 237h2v2h-2zM419 236h3v2h-3zM421 235h2v2h-2zM422 234h3v2h-3zM424 233h3v2h-3zM426 232h2v2h-2zM427 231h3v2h-3zM429 230h3v2h-3zM431 229h2v2h-2zM432 228h3v2h-3zM434 227h3v2h-3zM436 226h2v2h-2zM437 225h3v2h-3zM439 224h3v2h-3zM441 223h2v2h-2zM442 222h3v2h-3zM444 221h3v2h-3zM446 220h3v2h-3zM448 219h3v2h-3zM450 218h3v2h-3zM452 217h3v2h-3zM454 216h3v2h-3zM456 215h2v2h-2zM457 214h3v2h-3zM459 213h3v2h-3zM461 212h3v2h-3zM463 211h3v2h-3zM465 210h3v2h-3zM467 209h3v2h-3zM469 208h3v2h-3zM471 207h3v2h-3zM473 206h2v2h-2zM474 205h3v2h-3zM476 204h2v2h-2zM477 203h3v2h-3zM479 202h3v2h-3zM481 201h2v2h-2zM482 200h3v2h-3zM484 199h3v2h-3zM486 198h2v2h-2zM487 197h3v2h-3zM489 196h3v2h-3zM491 195h3v2h-3zM493 194h2v2h-2zM494 193h3v2h-3zM496 192h3v2h-3zM498 191h3v2h-3zM500 190h3v2h-3zM502 189h2v2h-2zM503 188h3v2h-3zM505 187h3v2h-3zM507 186h3v2h-3zM509 185h4v2h-4zM512 184h4v2h-4zM515 183h4v2h-4zM518 182h4v2h-4zM521 181h3v2h-3zM523 180h4v2h-4zM526 179h4v2h-4zM529 178h3v2h-3zM531 177h3v2h-3zM533 176h4v2h-4zM536 175h3v2h-3zM538 174h4v2h-4zM541 173h3v2h-3zM543 172h3v2h-3zM545 171h3v2h-3zM547 170h3v2h-3zM549 169h3v2h-3zM551 168h3v2h-3zM553 167h4v2h-4zM556 166h2v2h-2zM557 165h3v2h-3zM559 164h3v2h-3zM561 163h3v2h-3zM563 162h3v2h-3zM565 161h3v2h-3zM567 160h2v2h-2zM568 159h3v2h-3zM570 158h3v2h-3zM572 157h3v2h-3zM574 156h3v2h-3zM576 155h3v2h-3zM578 154h3v2h-3zM580 153h3v2h-3zM582 152h3v2h-3zM584 151h3v2h-3zM586 150h3v2h-3zM588 149h4v2h-4zM591 148h5v2h-5zM595 147h8v2h-8zM602 146h7v2h-7zM608 145h5v2h-5zM612 144h5v2h-5zM616 143h6v2h-6zM621 142h4v2h-4zM624 141h4v2h-4zM627 140h5v2h-5zM631 139h4v2h-4zM634 138h5v2h-5zM638 137h5v2h-5zM642 136h5v2h-5zM646 135h6v2h-6zM651 134h4v2h-4zM654 133h5v2h-5zM658 132h5v2h-5zM662 131h4v2h-4zM665 130h4v2h-4zM668 129h3v2h-3zM670 128h3v2h-3zM672 127h3v2h-3zM674 126h4v2h-4zM677 125h3v2h-3zM679 124h4v2h-4zM682 123h3v2h-3zM684 122h3v2h-3zM686 121h4v2h-4zM689 120h4v2h-4zM692 119h5v2h-5zM696 118h5v2h-5zM700 117h5v2h-5zM704 116h5v2h-5zM708 115h5v2h-5zM712 114h6v2h-6zM717 113h6v2h-6zM722 112h8v2h-8zM729 111h8v2h-8z" fill="#000"/>
<path d="M3 556h1v1h-1zM4 557h1v1h-1zM5 558h1v1h-1zM8 562h1v1h-1zM9 563h1v1h-1zM10 564h1v1h-1zM14 567h1v1h-1zM15 567h1v1h-1zM16 567h1v1h-1zM20 565h1v1h-1zM21 564h1v1h-1zM22 563h1v1h-1zM26 559h1v1h-1zM26 558h1v1h-1zM27 557h1v1h-1zM30 553h1v1h-1zM30 552h1v1h-1zM31 551h1v1h-1zM34 547h1v1h-1zM35 546h1v1h-1zM36 545h1v1h-1zM40 541h1v1h-1zM40 540h1v1h-1zM41 539h1v1h-1zM44 535h1v1h-1zM44 534h1v1h-1zM45 533h1v1h-1zM48 529h1v1h-1zM49 528h1v1h-1zM49 527h1v1h-1zM52 523h1v1h-1zM53 522h1v1h-1zM54 521h1v1h-1zM58 517h1v1h-1zM59 517h1v1h-1zM60 516h1v1h-1zM64 513h1v1h-1zM65 513h1v1h-1zM66 513h1v1h-1zM70 514h1v1h-1zM71 515h1v1h-1zM72 516h1v1h-1zM76 519h1v1h-1zM77 520h1v1h-1zM78 521h1v1h-1zM82 523h1v1h-1zM83 523h1v1h-1zM84 523h1v1h-1zM88 523h1v1h-1zM89 522h1v1h-1zM90 521h1v1h-1zM93 518h1v1h-1zM94 517h1v1h-1zM95 516h1v1h-1zM98 512h1v1h-1zM99 511h1v1h-1zM100 510h1v1h-1zM104 506h1v1h-1zM105 505h1v1h-1zM106 504h1v1h-1zM110 501h1v1h-1zM111 500h1v1h-1zM112 500h1v1h-1zM116 498h1v1h-1zM117 497h1v1h-1zM118 497h1v1h-1zM122 494h1v1h-1zM123 493h1v1h-1zM124 493h1v1h-1zM128 491h1v1h-1zM129 490h1v1h-1zM130 490h1v1h-1zM134 489h1v1h-1zM135 488h1v1h-1zM136 488h1v1h-1zM140 489h1v1h-1zM141 490h1v1h-1zM142 490h1v1h-1zM146 493h1v1h-1zM147 493h1v1h-1zM148 494h1v1h-1zM152 498h1v1h-1zM153 499h1v1h-1zM154 500h1v1h-1zM158 503h1v1h-1zM159 504h1v1h-1zM160 504h1v1h-1zM164 507h1v1h-1zM165 507h1v1h-1zM166 508h1v1h-1zM170 509h1v1h-1zM171 509h1v1h-1zM172 509h1v1h-1zM176 509h1v1h-1zM177 508h1v1h-1zM178 508h1v1h-1zM182 506h1v1h-1zM183 506h1v1h-1zM184 505h1v1h-1zM188 503h1v1h-1zM189 502h1v1h-1zM190 502h1v1h-1zM194 498h1v1h-1zM195 497h1v1h-1zM196 496h1v1h-1zM200 492h1v1h-1zM201 491h1v1h-1zM202 490h1v1h-1zM206 486h1v1h-1zM207 485h1v1h-1zM208 484h1v1h-1zM212 480h1v1h-1zM213 479h1v1h-1zM214 478h1v1h-1zM218 474h1v1h-1zM219 473h1v1h-1zM220 472h1v1h-1zM224 471h1v1h-1zM225 470h1v1h-1zM226 470h1v1h-1zM230 470h1v1h-1zM231 470h1v1h-1zM232 470h1v1h-1zM236 471h1v1h-1zM237 471h1v1h-1zM238 472h1v1h-1zM242 472h1v1h-1zM243 471h1v1h-1zM244 471h1v1h-1zM248 471h1v1h-1zM249 470h1v1h-1zM250 470h1v1h-1zM254 470h1v1h-1zM255 469h1v1h-1zM256 469h1v1h-1zM260 472h1v1h-1zM261 472h1v1h-1zM262 473h1v1h-1zM266 477h1v1h-1zM267 478h1v1h-1zM268 479h1v1h-1zM271 483h1v1h-1zM272 484h1v1h-1zM272 485h1v1h-1zM275 489h1v1h-1zM276 490h1v1h-1zM276 491h1v1h-1zM279 495h1v1h-1zM280 496h1v1h-1zM281 497h1v1h-1zM284 501h1v1h-1zM285 502h1v1h-1zM286 503h1v1h-1zM290 507h1v1h-1zM291 508h1v1h-1zM292 508h1v1h-1zM296 507h1v1h-1zM297 507h1v1h-1zM298 507h1v1h-1zM302 505h1v1h-1zM303 504h1v1h-1zM304 503h1v1h-1zM308 500h1v1h-1zM309 499h1v1h-1zM310 498h1v1h-1zM314 496h1v1h-1zM315 495h1v1h-1zM316 495h1v1h-1zM320 494h1v1h-1zM321 494h1v1h-1zM322 494h1v1h-1zM326 496h1v1h-1zM327 497h1v1h-1zM328 497h1v1h-1zM332 501h1v1h-1zM333 502h1v1h-1zM334 503h1v1h-1zM338 507h1v1h-1zM338 508h1v1h-1zM339 509h1v1h-1zM342 513h1v1h-1zM343 514h1v1h-1zM344 515h1v1h-1zM348 518h1v1h-1zM349 518h1v1h-1zM350 519h1v1h-1zM354 520h1v1h-1zM355 520h1v1h-1zM356 520h1v1h-1zM360 520h1v1h-1zM361 520h1v1h-1zM362 520h1v1h-1zM366 520h1v1h-1zM367 520h1v1h-1zM368 521h1v1h-1zM372 522h1v1h-1zM373 522h1v1h-1zM374 522h1v1h-1zM378 523h1v1h-1zM379 523h1v1h-1zM380 522h1v1h-1zM384 520h1v1h-1zM385 520h1v1h-1zM386 519h1v1h-1zM390 517h1v1h-1zM391 516h1v1h-1zM392 515h1v1h-1zM396 513h1v1h-1zM397 512h1v1h-1zM398 512h1v1h-1zM402 510h1v1h-1zM403 509h1v1h-1zM404 509h1v1h-1zM408 507h1v1h-1zM409 506h1v1h-1zM410 506h1v1h-1zM414 503h1v1h-1zM415 502h1v1h-1zM416 502h1v1h-1zM420 499h1v1h-1zM421 498h1v1h-1zM422 497h1v1h-1zM426 494h1v1h-1zM427 493h1v1h-1zM428 493h1v1h-1zM432 491h1v1h-1zM433 491h1v1h-1zM434 491h1v1h-1zM438 491h1v1h-1zM439 491h1v1h-1zM440 491h1v1h-1zM444 491h1v1h-1zM445 491h1v1h-1zM446 491h1v1h-1zM450 492h1v1h-1zM451 492h1v1h-1zM452 492h1v1h-1zM456 493h1v1h-1zM457 493h1v1h-1zM458 493h1v1h-1zM462 495h1v1h-1zM463 496h1v1h-1zM464 497h1v1h-1zM468 501h1v1h-1zM468 502h1v1h-1zM469 502h1v1h-1zM473 504h1v1h-1zM474 505h1v1h-1zM475 505h1v1h-1zM479 507h1v1h-1zM480 507h1v1h-1zM481 507h1v1h-1zM485 507h1v1h-1zM486 507h1v1h-1zM487 507h1v1h-1zM491 507h1v1h-1zM492 507h1v1h-1zM493 507h1v1h-1zM497 505h1v1h-1zM498 505h1v1h-1zM499 505h1v1h-1zM503 502h1v1h-1zM504 502h1v1h-1zM505 501h1v1h-1zM509 500h1v1h-1zM510 500h1v1h-1zM511 500h1v1h-1zM515 500h1v1h-1zM516 500h1v1h-1zM517 501h1v1h-1zM521 502h1v1h-1zM522 503h1v1h-1zM523 503h1v1h-1zM527 505h1v1h-1zM528 505h1v1h-1zM529 506h1v1h-1zM533 506h1v1h-1zM534 507h1v1h-1zM535 507h1v1h-1zM539 508h1v1h-1zM540 508h1v1h-1zM541 508h1v1h-1zM545 510h1v1h-1zM546 510h1v1h-1zM547 510h1v1h-1zM551 513h1v1h-1zM552 514h1v1h-1zM553 514h1v1h-1zM557 515h1v1h-1zM558 516h1v1h-1zM559 515h1v1h-1zM563 513h1v1h-1zM564 513h1v1h-1zM565 512h1v1h-1zM569 509h1v1h-1zM570 509h1v1h-1zM571 508h1v1h-1zM575 505h1v1h-1zM576 504h1v1h-1zM577 504h1v1h-1zM581 502h1v1h-1zM582 501h1v1h-1zM583 501h1v1h-1zM587 502h1v1h-1zM588 502h1v1h-1zM589 502h1v1h-1zM593 505h1v1h-1zM594 506h1v1h-1zM595 507h1v1h-1zM598 511h1v1h-1zM598 512h1v1h-1zM599 513h1v1h-1zM602 517h1v1h-1zM603 518h1v1h-1zM603 519h1v1h-1zM606 523h1v1h-1zM607 524h1v1h-1zM607 525h1v1h-1zM611 528h1v1h-1zM612 529h1v1h-1zM613 529h1v1h-1zM617 530h1v1h-1zM618 530h1v1h-1zM619 530h1v1h-1zM623 526h1v1h-1zM624 525h1v1h-1zM625 524h1v1h-1zM627 520h1v1h-1zM628 519h1v1h-1zM629 518h1v1h-1zM631 514h1v1h-1zM632 513h1v1h-1zM633 512h1v1h-1zM635 508h1v1h-1zM636 507h1v1h-1zM637 506h1v1h-1zM639 502h1v1h-1zM640 501h1v1h-1zM641 500h1v1h-1zM644 497h1v1h-1zM645 496h1v1h-1zM646 495h1v1h-1zM650 495h1v1h-1zM651 495h1v1h-1zM652 495h1v1h-1zM656 496h1v1h-1zM657 496h1v1h-1zM658 496h1v1h-1zM662 498h1v1h-1zM663 498h1v1h-1zM664 499h1v1h-1zM668 499h1v1h-1zM669 499h1v1h-1zM670 500h1v1h-1zM674 500h1v1h-1zM675 500h1v1h-1zM676 500h1v1h-1zM680 501h1v1h-1zM681 501h1v1h-1zM682 501h1v1h-1zM686 502h1v1h-1zM687 502h1v1h-1zM688 502h1v1h-1zM692 502h1v1h-1zM693 502h1v1h-1zM694 502h1v1h-1zM698 504h1v1h-1zM699 504h1v1h-1zM700 505h1v1h-1zM704 507h1v1h-1zM705 508h1v1h-1zM706 509h1v1h-1zM710 511h1v1h-1zM711 512h1v1h-1zM712 512h1v1h-1zM716 515h1v1h-1zM717 515h1v1h-1zM718 516h1v1h-1zM722 518h1v1h-1zM723 518h1v1h-1zM724 519h1v1h-1zM728 521h1v1h-1zM729 522h1v1h-1zM730 522h1v1h-1z" fill="#ff0000"/>
<rect x="2" y="2" width="759" height="1" fill="#000"/>
<rect x="2" y="458" width="759" height="1" fill="#000"/>
<rect x="2" y="2" width="1" height="457" fill="#000"/>
<rect x="760" y="2" width="1" height="457" fill="#000"/>
<rect x="2" y="460" width="759" height="1" fill="#000"/>
<rect x="2" y="582" width="759" height="1" fill="#000"/>
<rect x="2" y="460" width="1" height="123" fill="#000"/>
<rect x="760" y="460" width="1" height="123" fill="#000"/>
<rect x="761" y="25" width="2" height="1" fill="#000"/>
<rect x="761" y="58" width="2" height="1" fill="#000"/>
<rect x="761" y="91" width="2" height="1" fill="#000"/>
<rect x="761" y="124" width="2" height="1" fill="#000"/>
<rect x="761" y="190" width="2" height="1" fill="#000"/>
<rect x="761" y="223" width="2" height="1" fill="#000"/>
<rect x="761" y="256" width="2" height="1" fill="#000"/>
<rect x="761" y="289" width="2" height="1" fill="#000"/>
<rect x="761" y="322" width="2" height="1" fill="#000"/>
<rect x="761" y="355" width="2" height="1" fill="#000"/>
<rect x="761" y="388" width="2" height="1" fill="#000"/>
<rect x="761" y="421" width="2" height="1" fill="#000"/>
<rect x="761" y="455" width="2" height="1" fill="#000"/>
<rect x="761" y="462" width="1" height="1" fill="#000"/>
<rect x="761" y="523" width="2" height="1" fill="#000"/>
<rect x="761" y="581" width="1" height="1" fill="#000"/>
<rect x="3" y="583" width="1" height="3" fill="#000"/>
<rect x="67" y="583" width="1" height="3" fill="#000"/>
<rect x="131" y="583" width="1" height="3" fill="#000"/>
<rect x="195" y="583" width="1" height="3" fill="#000"/>
<rect x="259" y="583" width="1" height="3" fill="#000"/>
<rect x="323" y="583" width="1" height="3" fill="#000"/>
<rect x="387" y="583" width="1" height="3" fill="#000"/>
<rect x="451" y="583" width="1" height="3" fill="#000"/>
<rect x="515" y="583" width="1" height="3" fill="#000"/>
<rect x="579" y="583" width="1" height="3" fill="#000"/>
<rect x="643" y="583" width="1" height="3" fill="#000"/>
<rect x="707" y="583" width="1" height="3" fill="#000"/>
<path d="M6 9h7l-3.5 4z" fill="#000"/>
</g>
<g class="k">
<text x="766.1" y="28" fill="#000" textLength="28.1" lengthAdjust="spacingAndGlyphs">1.6825</text>
<text x="766.1" y="61" fill="#000" textLength="28.1" lengthAdjust="spacingAndGlyphs">1.6670</text>
<text x="766.1" y="94" fill="#000" textLength="28.1" lengthAdjust="spacingAndGlyphs">1.6510</text>
<text x="766.1" y="127" fill="#000" textLength="28.1" lengthAdjust="spacingAndGlyphs">1.6355</text>
<text x="766.1" y="193" fill="#000" textLength="28.1" lengthAdjust="spacingAndGlyphs">1.6040</text>
<text x="766.1" y="226" fill="#000" textLength="28.1" lengthAdjust="spacingAndGlyphs">1.5880</text>
<text x="766.1" y="259" fill="#000" textLength="28.1" lengthAdjust="spacingAndGlyphs">1.5725</text>
<text x="766.1" y="292" fill="#000" textLength="28.1" lengthAdjust="spacingAndGlyphs">1.5565</text>
<text x="766.1" y="325" fill="#000" textLength="28.1" lengthAdjust="spacingAndGlyphs">1.5410</text>
<text x="766.1" y="358" fill="#000" textLength="28.1" lengthAdjust="spacingAndGlyphs">1.5250</text>
<text x="766.1" y="391" fill="#000" textLength="28.1" lengthAdjust="spacingAndGlyphs">1.5090</text>
<text x="766.1" y="424" fill="#000" textLength="28.1" lengthAdjust="spacingAndGlyphs">1.4930</text>
<text x="766.1" y="458" fill="#000" textLength="28.1" lengthAdjust="spacingAndGlyphs">1.4770</text>
</g>
<g shape-rendering="crispEdges">
<rect x="762" y="25" width="36" height="11" fill="#ff0000"/>
<rect x="762" y="45" width="36" height="11" fill="#ff0000"/>
<rect x="762" y="66" width="36" height="11" fill="#ff0000"/>
<rect x="762" y="91" width="36" height="11" fill="#000"/>
<rect x="762" y="109" width="36" height="11" fill="#006400"/>
<rect x="762" y="130" width="36" height="11" fill="#006400"/>
<rect x="762" y="150" width="36" height="11" fill="#006400"/>
</g>
<g class="w">
<text x="766.3" y="34" fill="#fff" textLength="28.1" lengthAdjust="spacingAndGlyphs">1.6800</text>
<text x="766.3" y="54" fill="#fff" textLength="28.1" lengthAdjust="spacingAndGlyphs">1.6701</text>
<text x="766.3" y="75" fill="#fff" textLength="28.1" lengthAdjust="spacingAndGlyphs">1.6603</text>
<text x="766.3" y="100" fill="#fff" textLength="28.1" lengthAdjust="spacingAndGlyphs">1.6483</text>
<text x="766.3" y="118" fill="#fff" textLength="28.1" lengthAdjust="spacingAndGlyphs">1.6396</text>
<text x="766.3" y="139" fill="#fff" textLength="28.1" lengthAdjust="spacingAndGlyphs">1.6298</text>
<text x="766.3" y="159" fill="#fff" textLength="28.1" lengthAdjust="spacingAndGlyphs">1.6199</text>
</g>
<g class="k">
<text x="764.3" y="471" fill="#000" textLength="33.2" lengthAdjust="spacingAndGlyphs">0.03517</text>
<text x="764.3" y="525.6" fill="#000" textLength="17.9" lengthAdjust="spacingAndGlyphs">0.00</text>
<text x="763.6" y="579.5" fill="#000" textLength="36.4" lengthAdjust="spacingAndGlyphs">-0.03297</text>
<text x="2.3" y="595" fill="#000" textLength="42.7" lengthAdjust="spacingAndGlyphs">8 Jul 2013</text>
<text x="66.3" y="595" fill="#000" textLength="47.9" lengthAdjust="spacingAndGlyphs">30 Jul 2013</text>
<text x="130.3" y="595" fill="#000" textLength="52.1" lengthAdjust="spacingAndGlyphs">21 Aug 2013</text>
<text x="194.3" y="595" fill="#000" textLength="52.6" lengthAdjust="spacingAndGlyphs">12 Sep 2013</text>
<text x="258.3" y="595" fill="#000" textLength="45.3" lengthAdjust="spacingAndGlyphs">4 Oct 2013</text>
<text x="322.3" y="595" fill="#000" textLength="50.5" lengthAdjust="spacingAndGlyphs">28 Oct 2013</text>
<text x="386.3" y="595" fill="#000" textLength="52.6" lengthAdjust="spacingAndGlyphs">19 Nov 2013</text>
<text x="450.3" y="595" fill="#000" textLength="51.9" lengthAdjust="spacingAndGlyphs">11 Dec 2013</text>
<text x="514.3" y="595" fill="#000" textLength="45.8" lengthAdjust="spacingAndGlyphs">6 Jan 2014</text>
<text x="578.3" y="595" fill="#000" textLength="51.0" lengthAdjust="spacingAndGlyphs">28 Jan 2014</text>
<text x="642.3" y="595" fill="#000" textLength="52.1" lengthAdjust="spacingAndGlyphs">19 Feb 2014</text>
<text x="706.3" y="595" fill="#000" textLength="52.0" lengthAdjust="spacingAndGlyphs">13 Mar 2014</text>
<text x="18.3" y="13.7" fill="#000" textLength="63.6" lengthAdjust="spacingAndGlyphs">GBPUSD,Daily</text>
<text x="88.3" y="13.7" fill="#000" textLength="28.1" lengthAdjust="spacingAndGlyphs">1.6471</text>
<text x="119.5" y="13.7" fill="#000" textLength="28.1" lengthAdjust="spacingAndGlyphs">1.6496</text>
<text x="150.7" y="13.7" fill="#000" textLength="28.1" lengthAdjust="spacingAndGlyphs">1.6471</text>
<text x="181.6" y="13.7" fill="#000" textLength="28.1" lengthAdjust="spacingAndGlyphs">1.6483</text>
<text x="7.5" y="472.6" fill="#000" textLength="139" lengthAdjust="spacingAndGlyphs">MACD(5,34,5) -0.00615 -0.00252</text>
<text x="7.8" y="578" fill="#000" textLength="230.8" lengthAdjust="spacingAndGlyphs">MetaTrader, © 2001-2014, MetaQuotes Software Corp.</text>
</g>
</svg>
</body></html>
